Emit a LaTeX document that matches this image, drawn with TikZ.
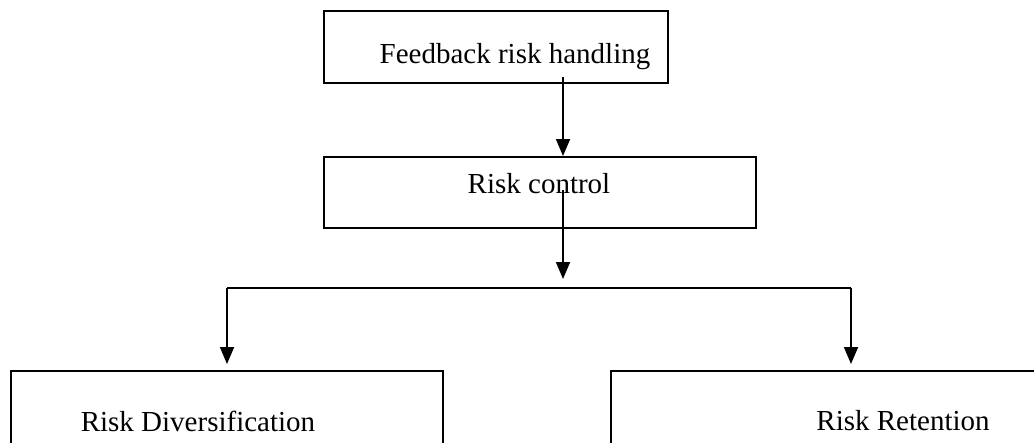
\documentclass[tikz,border=0pt]{standalone}
\usepackage{fontspec}
\setmainfont{Liberation Serif}
\usetikzlibrary{arrows.meta,positioning}

\begin{document}
\begin{tikzpicture}[x=1pt,y=-1pt,
    box/.style={draw,line width=1.8pt,inner sep=0pt,anchor=north west},
    lbl/.style={inner sep=0pt,font=\fontsize{29}{33}\selectfont},
    flow/.style={line width=1.8pt,-{Triangle[length=17pt,width=14pt]}},
    wire/.style={line width=1.8pt}]
    \useasboundingbox (0,0) rectangle (1034,442);
    \clip (0,0) rectangle (1034,442);
    % boxes
    \node[box,minimum width=344pt,minimum height=72pt] (fb) at (323,10) {};
    \node[box,minimum width=432pt,minimum height=71pt] (rc) at (323,156) {};
    \node[box,minimum width=432pt,minimum height=90pt] (div) at (10,370) {};
    \node[box,minimum width=440pt,minimum height=90pt] (ret) at (610,370) {};
    % texts
    \node[lbl] (fbt) at (515,57) {Feedback risk handling};
    \node[lbl] (rct) at (539,184) {Risk control};
    \node[lbl] (divt) at (198,421) {Risk Diversification};
    \node[lbl] (rett) at (903,421) {Risk Retention};
    % connectors
    \coordinate (a) at (563,77);
    \coordinate (b) at (563,190);
    \coordinate (c) at (563,279);
    \coordinate (l) at (227,288);
    \coordinate (r) at (851,288);
    \draw[flow] (a) -- (a |- rc.north);
    \draw[flow] (b) -- (c);
    \draw[wire] (l) -- (r);
    \draw[flow] (l) -- ([yshift=6pt]l |- div.north);
    \draw[flow] (r) -- ([yshift=6pt]r |- ret.north);
\end{tikzpicture}
\end{document}
